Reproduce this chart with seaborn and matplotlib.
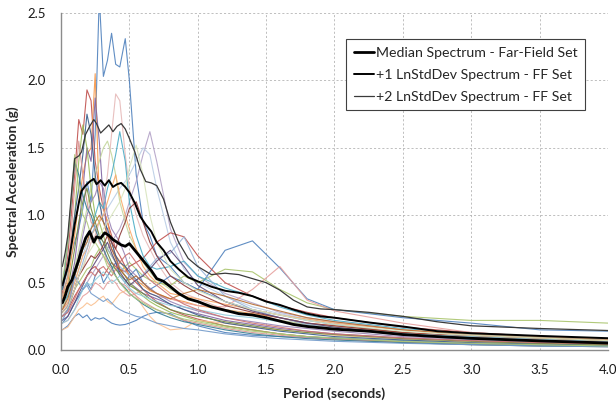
import matplotlib
matplotlib.use("Agg")
import matplotlib.pyplot as plt
import numpy as np
import pandas as pd
import seaborn as sns

# ---------------------------------------------------------------------------
# Response spectra (5% damped) of the far-field record set, Sa in g
# ---------------------------------------------------------------------------
periods = [0.01, 0.05, 0.10, 0.13, 0.16, 0.19, 0.22, 0.25, 0.28, 0.31, 0.34, 0.37,
           0.40, 0.43, 0.47, 0.50, 0.55, 0.60, 0.65, 0.70, 0.80, 0.90, 1.00, 1.20,
           1.40, 1.60, 1.80, 2.00, 2.50, 3.00, 3.50, 4.00]

gm01 = [0.50, 0.60, 0.80, 0.90, 1.05, 1.25, 1.10, 1.60, 2.62, 2.03, 2.15, 2.35, 2.12, 2.10, 2.31, 2.00,
        1.30, 0.95, 0.85, 0.70, 0.62, 0.50, 0.45, 0.36, 0.30, 0.26, 0.22, 0.19, 0.13, 0.09, 0.07, 0.06]
gm02 = [0.42, 0.70, 1.30, 1.71, 1.60, 1.93, 1.85, 1.40, 1.20, 1.05, 0.95, 0.85, 0.75, 0.70, 0.62, 0.55,
        0.50, 0.45, 0.40, 0.36, 0.30, 0.26, 0.23, 0.18, 0.15, 0.12, 0.10, 0.085, 0.06, 0.045, 0.035, 0.03]
gm03 = [0.38, 0.50, 0.85, 1.10, 1.30, 1.45, 1.50, 2.05, 1.10, 1.05, 0.95, 0.80, 0.70, 0.66, 0.60, 0.55,
        0.52, 0.48, 0.44, 0.42, 0.38, 0.36, 0.33, 0.30, 0.27, 0.24, 0.20, 0.18, 0.13, 0.10, 0.08, 0.06]
gm04 = [0.30, 0.40, 0.65, 0.90, 1.20, 1.50, 1.40, 1.87, 1.55, 1.10, 0.85, 0.75, 0.70, 0.60, 0.55, 0.50,
        0.46, 0.42, 0.40, 0.38, 0.34, 0.30, 0.27, 0.22, 0.19, 0.16, 0.14, 0.12, 0.09, 0.07, 0.055, 0.045]
gm05 = [0.30, 0.35, 0.45, 0.55, 0.60, 0.70, 0.80, 0.85, 0.95, 1.10, 1.30, 1.60, 1.90, 1.85, 1.45, 1.20,
        1.00, 0.85, 0.75, 0.65, 0.50, 0.42, 0.38, 0.30, 0.26, 0.22, 0.19, 0.17, 0.12, 0.09, 0.07, 0.06]
gm06 = [0.25, 0.28, 0.35, 0.40, 0.45, 0.50, 0.55, 0.60, 0.65, 0.70, 0.75, 0.80, 0.85, 0.90, 1.00, 1.10,
        1.25, 1.45, 1.62, 1.40, 0.90, 0.65, 0.55, 0.42, 0.35, 0.28, 0.24, 0.21, 0.15, 0.11, 0.09, 0.07]
gm07 = [0.30, 0.35, 0.50, 0.60, 0.70, 0.80, 0.85, 0.90, 0.95, 1.00, 1.05, 1.10, 1.15, 1.20, 1.25, 1.30,
        1.40, 1.50, 1.45, 1.20, 0.80, 0.60, 0.50, 0.40, 0.32, 0.27, 0.23, 0.20, 0.15, 0.12, 0.10, 0.08]
gm08 = [0.32, 0.40, 0.60, 0.75, 0.90, 1.05, 1.20, 1.30, 1.40, 1.50, 1.55, 1.45, 1.30, 1.10, 0.95, 0.85,
        0.75, 0.65, 0.58, 0.52, 0.45, 0.40, 0.36, 0.30, 0.26, 0.22, 0.19, 0.17, 0.12, 0.09, 0.07, 0.055]
gm09 = [0.40, 0.55, 1.00, 1.40, 1.67, 1.50, 1.20, 1.00, 0.95, 0.85, 0.75, 0.70, 0.65, 0.60, 0.55, 0.50,
        0.45, 0.40, 0.36, 0.33, 0.28, 0.25, 0.22, 0.18, 0.15, 0.12, 0.10, 0.09, 0.06, 0.045, 0.035, 0.03]
gm10 = [0.25, 0.30, 0.45, 0.50, 0.55, 0.60, 0.62, 0.70, 0.75, 0.70, 0.65, 0.62, 0.60, 0.58, 0.62, 0.65,
        0.60, 0.55, 0.52, 0.50, 0.48, 0.55, 0.50, 0.60, 0.58, 0.45, 0.35, 0.30, 0.25, 0.22, 0.22, 0.20]
gm11 = [0.20, 0.25, 0.35, 0.40, 0.45, 0.50, 0.45, 0.55, 0.60, 0.50, 0.55, 0.60, 0.65, 0.55, 0.50, 0.55,
        0.60, 0.50, 0.45, 0.48, 0.55, 0.50, 0.45, 0.74, 0.81, 0.61, 0.38, 0.30, 0.24, 0.20, 0.15, 0.14]
gm12 = [0.25, 0.30, 0.40, 0.45, 0.50, 0.55, 0.60, 0.62, 0.58, 0.55, 0.60, 0.65, 0.62, 0.60, 0.58, 0.62,
        0.65, 0.68, 0.74, 0.80, 0.87, 0.84, 0.70, 0.50, 0.40, 0.33, 0.28, 0.24, 0.17, 0.13, 0.10, 0.08]
gm13 = [0.20, 0.22, 0.30, 0.35, 0.40, 0.42, 0.45, 0.50, 0.48, 0.45, 0.50, 0.52, 0.50, 0.45, 0.42, 0.40,
        0.42, 0.45, 0.42, 0.40, 0.38, 0.35, 0.33, 0.32, 0.45, 0.62, 0.37, 0.29, 0.20, 0.13, 0.10, 0.08]
gm14 = [0.15, 0.18, 0.25, 0.27, 0.24, 0.26, 0.22, 0.24, 0.23, 0.24, 0.22, 0.20, 0.19, 0.185, 0.19, 0.20,
        0.22, 0.25, 0.27, 0.28, 0.27, 0.22, 0.18, 0.13, 0.11, 0.10, 0.095, 0.09, 0.07, 0.05, 0.04, 0.035]
gm15 = [0.15, 0.17, 0.25, 0.30, 0.32, 0.35, 0.33, 0.35, 0.38, 0.40, 0.36, 0.34, 0.38, 0.42, 0.44, 0.45,
        0.40, 0.32, 0.25, 0.20, 0.15, 0.16, 0.22, 0.20, 0.17, 0.15, 0.13, 0.11, 0.08, 0.06, 0.05, 0.04]
gm16 = [0.35, 0.40, 0.55, 0.65, 0.75, 0.85, 0.90, 1.00, 1.10, 1.05, 1.20, 1.30, 1.45, 1.62, 1.40, 1.10,
        0.85, 0.70, 0.62, 0.60, 0.62, 0.66, 0.55, 0.46, 0.40, 0.32, 0.26, 0.22, 0.16, 0.12, 0.10, 0.08]
gm17 = [0.45, 0.60, 1.00, 1.20, 1.45, 1.75, 1.60, 1.30, 1.10, 0.95, 0.90, 0.80, 0.70, 0.65, 0.62, 0.58,
        0.52, 0.45, 0.42, 0.40, 0.34, 0.30, 0.26, 0.20, 0.17, 0.14, 0.12, 0.10, 0.075, 0.055, 0.045, 0.035]
gm18 = [0.40, 0.55, 1.20, 1.55, 1.30, 1.10, 0.95, 0.90, 0.80, 0.75, 0.65, 0.60, 0.55, 0.50, 0.48, 0.45,
        0.40, 0.36, 0.33, 0.30, 0.26, 0.22, 0.20, 0.16, 0.13, 0.11, 0.09, 0.08, 0.055, 0.04, 0.03, 0.025]
gm19 = [0.28, 0.33, 0.55, 0.70, 0.85, 1.00, 1.10, 1.15, 1.25, 1.20, 1.00, 0.90, 0.85, 0.80, 0.70, 0.60,
        0.55, 0.50, 0.46, 0.42, 0.36, 0.32, 0.29, 0.24, 0.21, 0.18, 0.16, 0.14, 0.10, 0.08, 0.06, 0.05]
gm20 = [0.45, 0.80, 1.40, 1.30, 1.15, 1.05, 1.00, 0.90, 0.82, 0.75, 0.68, 0.62, 0.55, 0.50, 0.46, 0.42,
        0.38, 0.34, 0.31, 0.28, 0.24, 0.21, 0.19, 0.15, 0.12, 0.10, 0.085, 0.075, 0.055, 0.04, 0.03, 0.025]
gm21 = [0.30, 0.35, 0.50, 0.60, 0.70, 0.75, 0.85, 0.90, 0.95, 1.00, 1.10, 1.20, 1.30, 1.15, 1.00, 0.90,
        0.75, 0.62, 0.55, 0.50, 0.42, 0.40, 0.38, 0.34, 0.30, 0.26, 0.23, 0.20, 0.15, 0.12, 0.10, 0.08]
gm22 = [0.25, 0.30, 0.45, 0.55, 0.65, 0.75, 0.85, 0.92, 0.85, 0.80, 0.75, 0.70, 0.65, 0.62, 0.58, 0.55,
        0.52, 0.56, 0.62, 0.68, 0.72, 0.84, 0.62, 0.40, 0.30, 0.24, 0.19, 0.16, 0.11, 0.08, 0.065, 0.05]
gm23 = [0.28, 0.32, 0.45, 0.55, 0.60, 0.65, 0.70, 0.68, 0.72, 0.78, 0.85, 0.80, 0.75, 0.85, 0.95, 1.05,
        1.10, 0.95, 0.80, 0.70, 0.55, 0.48, 0.42, 0.33, 0.28, 0.24, 0.20, 0.18, 0.13, 0.10, 0.08, 0.065]
gm24 = [0.35, 0.45, 0.75, 0.95, 1.10, 1.20, 1.05, 0.95, 0.85, 0.80, 0.72, 0.65, 0.60, 0.56, 0.52, 0.48,
        0.45, 0.42, 0.38, 0.35, 0.30, 0.27, 0.25, 0.21, 0.18, 0.15, 0.13, 0.115, 0.085, 0.065, 0.05, 0.04]
gm25 = [0.22, 0.25, 0.35, 0.42, 0.48, 0.55, 0.60, 0.65, 0.70, 0.75, 0.80, 0.72, 0.65, 0.58, 0.52, 0.48,
        0.52, 0.55, 0.60, 0.66, 0.74, 0.62, 0.48, 0.36, 0.29, 0.24, 0.20, 0.17, 0.12, 0.09, 0.07, 0.06]
gm26 = [0.20, 0.22, 0.30, 0.38, 0.45, 0.50, 0.48, 0.52, 0.55, 0.58, 0.55, 0.50, 0.52, 0.55, 0.50, 0.46,
        0.42, 0.40, 0.38, 0.36, 0.33, 0.32, 0.30, 0.26, 0.24, 0.21, 0.18, 0.16, 0.12, 0.10, 0.08, 0.065]
gm27 = [0.30, 0.38, 0.55, 0.65, 0.75, 0.80, 0.90, 0.95, 1.00, 0.95, 0.85, 0.75, 0.68, 0.60, 0.55, 0.52,
        0.55, 0.50, 0.45, 0.42, 0.38, 0.42, 0.45, 0.40, 0.34, 0.29, 0.24, 0.21, 0.15, 0.11, 0.09, 0.07]
gm28 = [0.22, 0.30, 0.55, 0.50, 0.45, 0.48, 0.42, 0.40, 0.38, 0.36, 0.38, 0.35, 0.32, 0.30, 0.28, 0.27,
        0.25, 0.24, 0.22, 0.20, 0.18, 0.16, 0.15, 0.12, 0.10, 0.085, 0.075, 0.065, 0.05, 0.04, 0.03, 0.025]
gm29 = [0.25, 0.28, 0.38, 0.45, 0.50, 0.55, 0.58, 0.55, 0.60, 0.62, 0.58, 0.55, 0.60, 0.65, 0.70, 0.72,
        0.65, 0.58, 0.52, 0.48, 0.40, 0.34, 0.30, 0.24, 0.20, 0.17, 0.14, 0.12, 0.09, 0.07, 0.055, 0.045]
gm30 = [0.50, 0.80, 1.45, 1.20, 1.00, 0.95, 0.85, 0.80, 0.75, 0.70, 0.62, 0.58, 0.55, 0.50, 0.45, 0.42,
        0.38, 0.35, 0.32, 0.30, 0.26, 0.23, 0.21, 0.17, 0.14, 0.12, 0.10, 0.09, 0.065, 0.05, 0.04, 0.03]
gm31 = [0.28, 0.32, 0.45, 0.55, 0.62, 0.70, 0.75, 0.80, 0.85, 0.90, 0.95, 1.00, 1.05, 1.10, 1.20, 1.35,
        1.52, 1.30, 1.00, 0.80, 0.60, 0.50, 0.44, 0.36, 0.30, 0.26, 0.22, 0.19, 0.14, 0.11, 0.09, 0.07]

records = {
    "gm01": gm01, "gm02": gm02, "gm03": gm03, "gm04": gm04, "gm05": gm05, "gm06": gm06,
    "gm07": gm07, "gm08": gm08, "gm09": gm09, "gm10": gm10, "gm11": gm11, "gm12": gm12,
    "gm13": gm13, "gm14": gm14, "gm15": gm15, "gm16": gm16, "gm17": gm17, "gm18": gm18,
    "gm19": gm19, "gm20": gm20, "gm21": gm21, "gm22": gm22, "gm23": gm23, "gm24": gm24,
    "gm25": gm25, "gm26": gm26, "gm27": gm27, "gm28": gm28, "gm29": gm29, "gm30": gm30,
    "gm31": gm31,
}

# Statistics of the set (lognormal median and +1 / +2 log-standard deviations)
stat_periods = [0.01, 0.03, 0.05, 0.08, 0.10, 0.13, 0.15, 0.18, 0.21, 0.24, 0.26, 0.29, 0.32,
                0.35, 0.38, 0.41, 0.44, 0.47, 0.50, 0.54, 0.58, 0.62, 0.66, 0.70, 0.75, 0.80,
                0.86, 0.93, 1.00, 1.10, 1.20, 1.30, 1.40, 1.50, 1.60, 1.70, 1.80, 1.90, 2.00,
                2.25, 2.50, 2.75, 3.00, 3.50, 4.00]
median_sa = [0.35, 0.40, 0.47, 0.52, 0.58, 0.67, 0.74, 0.83, 0.88, 0.80, 0.84, 0.83, 0.87,
             0.85, 0.82, 0.80, 0.78, 0.77, 0.79, 0.74, 0.69, 0.64, 0.59, 0.53, 0.51, 0.47,
             0.42, 0.38, 0.36, 0.32, 0.295, 0.27, 0.26, 0.24, 0.215, 0.19, 0.175, 0.165, 0.155,
             0.14, 0.115, 0.10, 0.087, 0.068, 0.052]
plus1_sa = [0.48, 0.55, 0.62, 0.80, 0.93, 1.09, 1.18, 1.22, 1.25, 1.27, 1.23, 1.26, 1.22,
            1.26, 1.21, 1.23, 1.24, 1.21, 1.17, 1.09, 0.99, 0.93, 0.88, 0.80, 0.74, 0.66,
            0.60, 0.54, 0.51, 0.47, 0.44, 0.425, 0.40, 0.36, 0.335, 0.30, 0.27, 0.25, 0.24,
            0.205, 0.175, 0.14, 0.125, 0.105, 0.088]
plus2_sa = [0.62, 0.72, 0.85, 1.20, 1.42, 1.44, 1.47, 1.60, 1.66, 1.71, 1.68, 1.61, 1.64,
            1.67, 1.62, 1.66, 1.68, 1.64, 1.57, 1.47, 1.34, 1.25, 1.24, 1.22, 1.12, 0.95,
            0.80, 0.68, 0.62, 0.56, 0.57, 0.56, 0.53, 0.50, 0.445, 0.37, 0.32, 0.305, 0.30,
            0.28, 0.25, 0.21, 0.18, 0.16, 0.145]

stat_labels = ["Median Spectrum - Far-Field Set",
               "+1 LnStdDev Spectrum - FF Set",
               "+2 LnStdDev Spectrum - FF Set"]

x_ticks = [0.0, 0.5, 1.0, 1.5, 2.0, 2.5, 3.0, 3.5, 4.0]
y_ticks = [0.0, 0.5, 1.0, 1.5, 2.0, 2.5]

# Line colours for the individual records (Office-style series palette)
record_colors = [
    "#4F81BD", "#C0504D", "#F79646", "#8064A2", "#E6B9B8", "#B3A2C7",
    "#B9CDE5", "#C3D69B", "#9BBB59", "#A9C46C", "#4F81BD", "#C0504D",
    "#E6A09E", "#4F81BD", "#FAC090", "#4BACC6", "#385D8A", "#D99694",
    "#9983B5", "#357D91", "#F9AB6B", "#95B3D7", "#8C3836", "#71893F",
    "#5C4776", "#93CDDD", "#B66D31", "#729ACA", "#CD7371", "#AFC97A",
    "#D7E4BD",
]

# ---------------------------------------------------------------------------
sns.set_theme(style="white")
plt.rcParams["font.family"] = ["Lato", "DejaVu Sans"]

fig = plt.figure(figsize=(6.16, 4.08), dpi=100, facecolor="white")
ax = fig.add_axes([0.099, 0.142, 0.888, 0.826])

rec_df = pd.DataFrame(
    [(name, t, sa) for name, vals in records.items() for t, sa in zip(periods, vals)],
    columns=["record", "period", "sa"],
)
sns.lineplot(data=rec_df, x="period", y="sa", hue="record",
             palette=dict(zip(records.keys(), record_colors)),
             estimator=None, sort=False, linewidth=0.8, alpha=0.9,
             legend=False, ax=ax)

stat_df = pd.DataFrame({"period": stat_periods, "median": median_sa,
                        "plus1": plus1_sa, "plus2": plus2_sa})
sns.lineplot(data=stat_df, x="period", y="plus2", color="#3a3a3a", linewidth=0.9,
             estimator=None, sort=False, ax=ax, label=stat_labels[2])
sns.lineplot(data=stat_df, x="period", y="plus1", color="black", linewidth=1.4,
             estimator=None, sort=False, ax=ax, label=stat_labels[1])
sns.lineplot(data=stat_df, x="period", y="median", color="black", linewidth=2.0,
             estimator=None, sort=False, ax=ax, label=stat_labels[0])

ax.set_xlim(0, 4.0)
ax.set_ylim(0, 2.5)
ax.set_xticks(x_ticks)
ax.set_yticks(y_ticks)
ax.set_xticklabels([f"{v:.1f}" for v in x_ticks])
ax.set_yticklabels([f"{v:.1f}" for v in y_ticks])
ax.tick_params(axis="both", length=0, labelsize=9.5, colors="#1a1a1a")
ax.tick_params(axis="y", pad=11)
ax.tick_params(axis="x", pad=10)

ax.grid(True, color="#b4b4b4", linestyle=(0, (2.5, 2.5)), linewidth=0.6)
ax.set_axisbelow(True)
for side in ("top", "right"):
    ax.spines[side].set_visible(False)
for side in ("left", "bottom"):
    ax.spines[side].set_color("#8c8c8c")
    ax.spines[side].set_linewidth(1.0)

ax.set_xlabel("Period (seconds)", fontsize=10, fontweight="bold", va="center")
ax.set_ylabel("Spectral Acceleration (g)", fontsize=10, fontweight="bold", va="center")
ax.xaxis.set_label_coords(0.5, -0.128)
ax.yaxis.set_label_coords(-0.089, 0.5)

handles, labels = ax.get_legend_handles_labels()
order = [labels.index(l) for l in stat_labels]
leg = ax.legend([handles[i] for i in order], [labels[i] for i in order],
                loc="upper left", bbox_to_anchor=(0.521, 0.923), borderaxespad=0,
                frameon=True, fancybox=False, framealpha=1, edgecolor="#404040",
                fontsize=10.2, handlelength=1.4, handletextpad=0.15,
                borderpad=0.55, labelspacing=0.7)
leg.get_frame().set_linewidth(0.8)

fig.savefig("out.png", dpi=100, facecolor="white")
